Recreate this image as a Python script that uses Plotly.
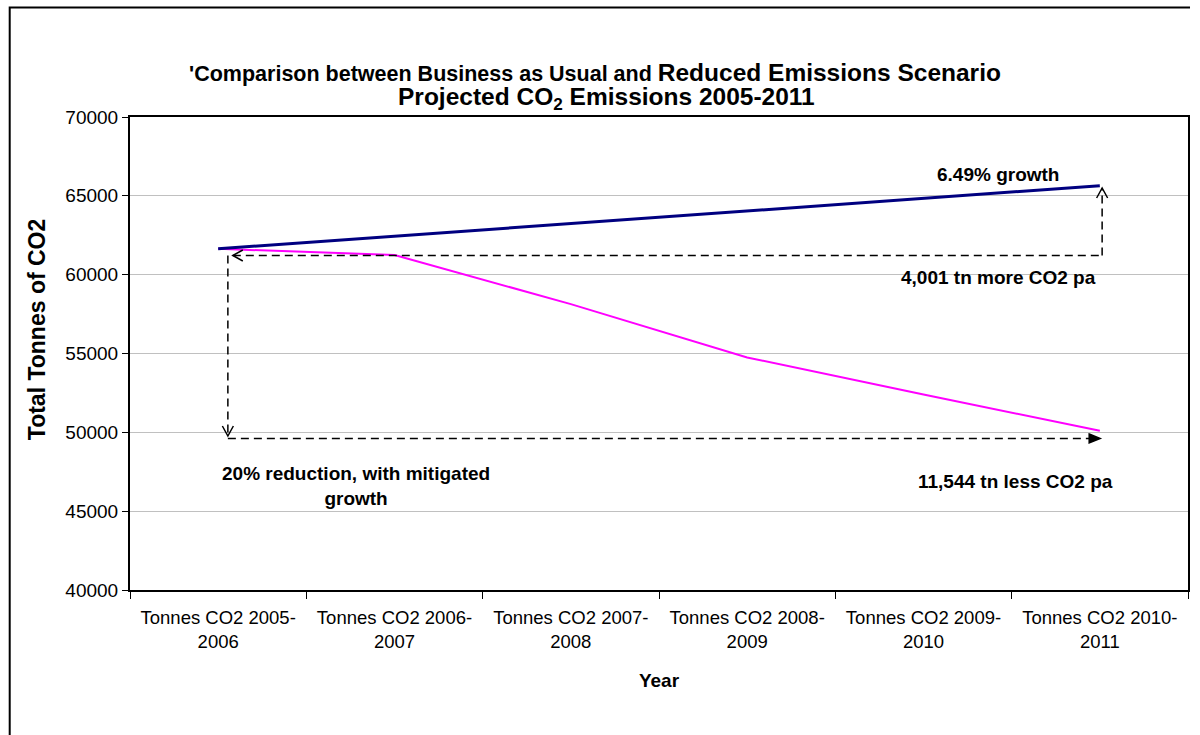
import plotly.graph_objects as go

# ---- data ----
categories = [
    "Tonnes CO2 2005-<br>2006",
    "Tonnes CO2 2006-<br>2007",
    "Tonnes CO2 2007-<br>2008",
    "Tonnes CO2 2008-<br>2009",
    "Tonnes CO2 2009-<br>2010",
    "Tonnes CO2 2010-<br>2011",
]
business_as_usual = [61640, 62440, 63240, 64041, 64841, 65641]
reduced_emissions = [61640, 61250, 58130, 54750, 52400, 50096]
y_ticks = [40000, 45000, 50000, 55000, 60000, 65000, 70000]

FONT = "Liberation Sans, Arial, sans-serif"

fig = go.Figure()
fig.add_trace(go.Scatter(x=categories, y=reduced_emissions, mode="lines",
                         line=dict(color="#FF00FF", width=2), name="Reduced Emissions"))
fig.add_trace(go.Scatter(x=categories, y=business_as_usual, mode="lines",
                         line=dict(color="#000080", width=3), name="Business as Usual"))

dash = dict(color="black", width=1.5, dash="8px,5px")
shapes = [
    # outer chart border (right side cropped in the original)
    dict(type="path", xref="paper", yref="paper",
         path="M -0.1137,-0.32 L -0.1137,1.2315 L 1.0019,1.2315",
         line=dict(color="black", width=2)),
    # upper horizontal dashed connector
    dict(type="line", xref="x", yref="y", x0=0.083, x1=5.013, y0=61216, y1=61216, line=dash),
    # right vertical dashed connector
    dict(type="line", xref="x", yref="y", x0=5.013, x1=5.013, y0=61216, y1=65497, line=dash),
    # left vertical dashed connector
    dict(type="line", xref="x", yref="y", x0=0.055, x1=0.055, y0=61216, y1=49767, line=dash),
    # lower horizontal dashed connector
    dict(type="line", xref="x", yref="y", x0=0.055, x1=4.995, y0=49609, y1=49609, line=dash),
]

def head(xa, ya, path, fill=False):
    d = dict(type="path", xref="x", yref="y", xsizemode="pixel", ysizemode="pixel",
             xanchor=xa, yanchor=ya, path=path, line=dict(color="black", width=1.5))
    if fill:
        d["fillcolor"] = "black"
    return d

shapes += [
    head(0.083, 61216, "M 10,5.5 L 0,0 L 10,-5.5"),
    head(5.013, 65497, "M -5.5,-10 L 0,0 L 5.5,-10"),
    head(0.055, 49767, "M -5.5,10 L 0,0 L 5.5,10"),
    head(5.002, 49609, "M -11,4.5 L 0,0 L -11,-4.5 Z", fill=True),
]

ann_font = dict(family=FONT, size=19, color="black")
annotations = [
    dict(x=4.424, y=66322, xref="x", yref="y", text="<b>6.49% growth</b>",
         showarrow=False, font=ann_font),
    dict(x=4.424, y=59789, xref="x", yref="y", text="<b>4,001 tn more CO2 pa</b>",
         showarrow=False, font=ann_font),
    dict(x=0.779, y=46600, xref="x", yref="y",
         text="<b>20% reduction, with mitigated<br>growth</b>",
         showarrow=False, font=ann_font),
    dict(x=4.521, y=46852, xref="x", yref="y", text="<b>11,544 tn less CO2 pa</b>",
         showarrow=False, font=ann_font),
    # second title line
    dict(x=0.450, y=1.040, xref="paper", yref="paper", xanchor="center", yanchor="middle",
         text="<b>Projected CO<sub>2</sub> Emissions 2005-2011</b>",
         showarrow=False, font=dict(family=FONT, size=24.5, color="black")),
    # y-axis title
    dict(x=-0.0877, y=0.5497, xref="paper", yref="paper", xanchor="center", yanchor="middle",
         text="<b>Total Tonnes of CO2</b>", textangle=-90,
         showarrow=False, font=dict(family=FONT, size=23, color="black")),
]

fig.update_layout(
    width=1200, height=735,
    margin=dict(l=130, r=10, t=117, b=145),
    paper_bgcolor="white", plot_bgcolor="white",
    showlegend=False,
    font=dict(family=FONT, color="black"),
    title=dict(
        text="<b><span style='font-size:21.5px'>'Comparison between Business as Usual and </span>"
             "Reduced Emissions Scenario</b>",
        font=dict(family=FONT, size=24.5, color="black"),
        x=595 / 1200, xref="container", xanchor="center",
        y=1 - 72 / 735, yref="container", yanchor="middle",
    ),
    shapes=shapes,
    annotations=annotations,
)

fig.update_xaxes(
    type="category", range=[-0.5, 5.5], tickson="boundaries",
    ticks="outside", ticklen=7, tickcolor="black", tickwidth=1,
    ticklabelstandoff=10,
    showgrid=False, showline=True, linecolor="black", linewidth=2, mirror=True,
    tickfont=dict(family=FONT, size=18.5, color="black"),
    title=dict(text="<b>Year</b>", font=dict(family=FONT, size=19, color="black"), standoff=22),
)
fig.update_yaxes(
    range=[40000, 70000], tickvals=y_ticks, tickformat="d",
    ticks="outside", ticklen=6, tickcolor="black", tickwidth=1,
    showgrid=True, gridcolor="#C0C0C0", gridwidth=1,
    showline=True, linecolor="black", linewidth=2, mirror=True,
    tickfont=dict(family=FONT, size=19, color="black"),
    zeroline=False,
)

fig.write_html("out.html")
